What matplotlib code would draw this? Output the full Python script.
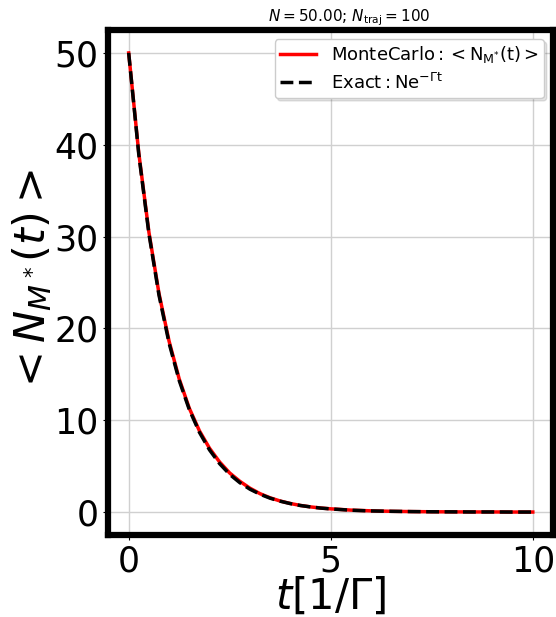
import numpy as np
import matplotlib
matplotlib.use("Agg")
import matplotlib.pyplot as plt

# time grid in units of 1/Gamma
t = [0.0, 0.25, 0.5, 0.75, 1.0, 1.25, 1.5, 1.75, 2.0, 2.25, 2.5, 2.75,
     3.0, 3.25, 3.5, 3.75, 4.0, 4.25, 4.5, 4.75, 5.0, 5.5, 6.0, 6.5,
     7.0, 7.5, 8.0, 8.5, 9.0, 9.5, 10.0]

# Monte Carlo average over trajectories
n_mc = [50.0, 39.1, 30.5, 23.8, 18.6, 14.5, 11.3, 8.85, 6.95, 5.45, 4.25, 3.35,
        2.6, 2.0, 1.55, 1.2, 0.93, 0.72, 0.56, 0.44, 0.35, 0.21, 0.13, 0.08,
        0.05, 0.03, 0.02, 0.01, 0.01, 0.0, 0.0]

# analytic decay N exp(-Gamma t)
n_exact = [50.0, 38.94, 30.33, 23.62, 18.39, 14.33, 11.16, 8.69, 6.77, 5.27, 4.10, 3.20,
           2.49, 1.94, 1.51, 1.18, 0.92, 0.71, 0.56, 0.43, 0.34, 0.20, 0.12, 0.08,
           0.05, 0.03, 0.02, 0.01, 0.01, 0.0, 0.0]

N = 50.0
ntraj = 100

fig = plt.figure(figsize=(5.56, 6.17), dpi=100)
ax = fig.add_axes([0.1951, 0.1329, 0.7995, 0.8185])

ax.plot(t, n_mc, color="red", lw=2.5, label=r"$\mathrm{MonteCarlo: <N_{M^{*}}(t)>}$")
ax.plot(t, n_exact, color="black", lw=2.5, ls="--", label=r"$\mathrm{Exact: Ne^{-\Gamma t}}$")

ax.set_xlim(-0.5, 10.5)
ax.set_ylim(-2.5, 52.5)
ax.set_xticks([0, 5, 10])
ax.set_yticks([0, 10, 20, 30, 40, 50])
ax.tick_params(labelsize=25)
ax.grid(True, color="#d0d0d0", lw=1)
for s in ax.spines.values():
    s.set_linewidth(4.5)

ax.set_xlabel(r"$t[1/\Gamma]$", fontsize=30)
ax.xaxis.set_label_coords(0.5, -0.080)
ax.set_ylabel(r"$<N_{M^*}(t)>$", fontsize=31, labelpad=0)
ax.set_title(r"$N = %.2f$; $N_{\rm traj} = %d$" % (N, ntraj), fontsize=11, x=0.541)
ax.legend(loc="upper right", fontsize=13, borderpad=0.3, labelspacing=0.4,
          shadow=dict(alpha=0.15))

fig.savefig("out.png", dpi=100)
